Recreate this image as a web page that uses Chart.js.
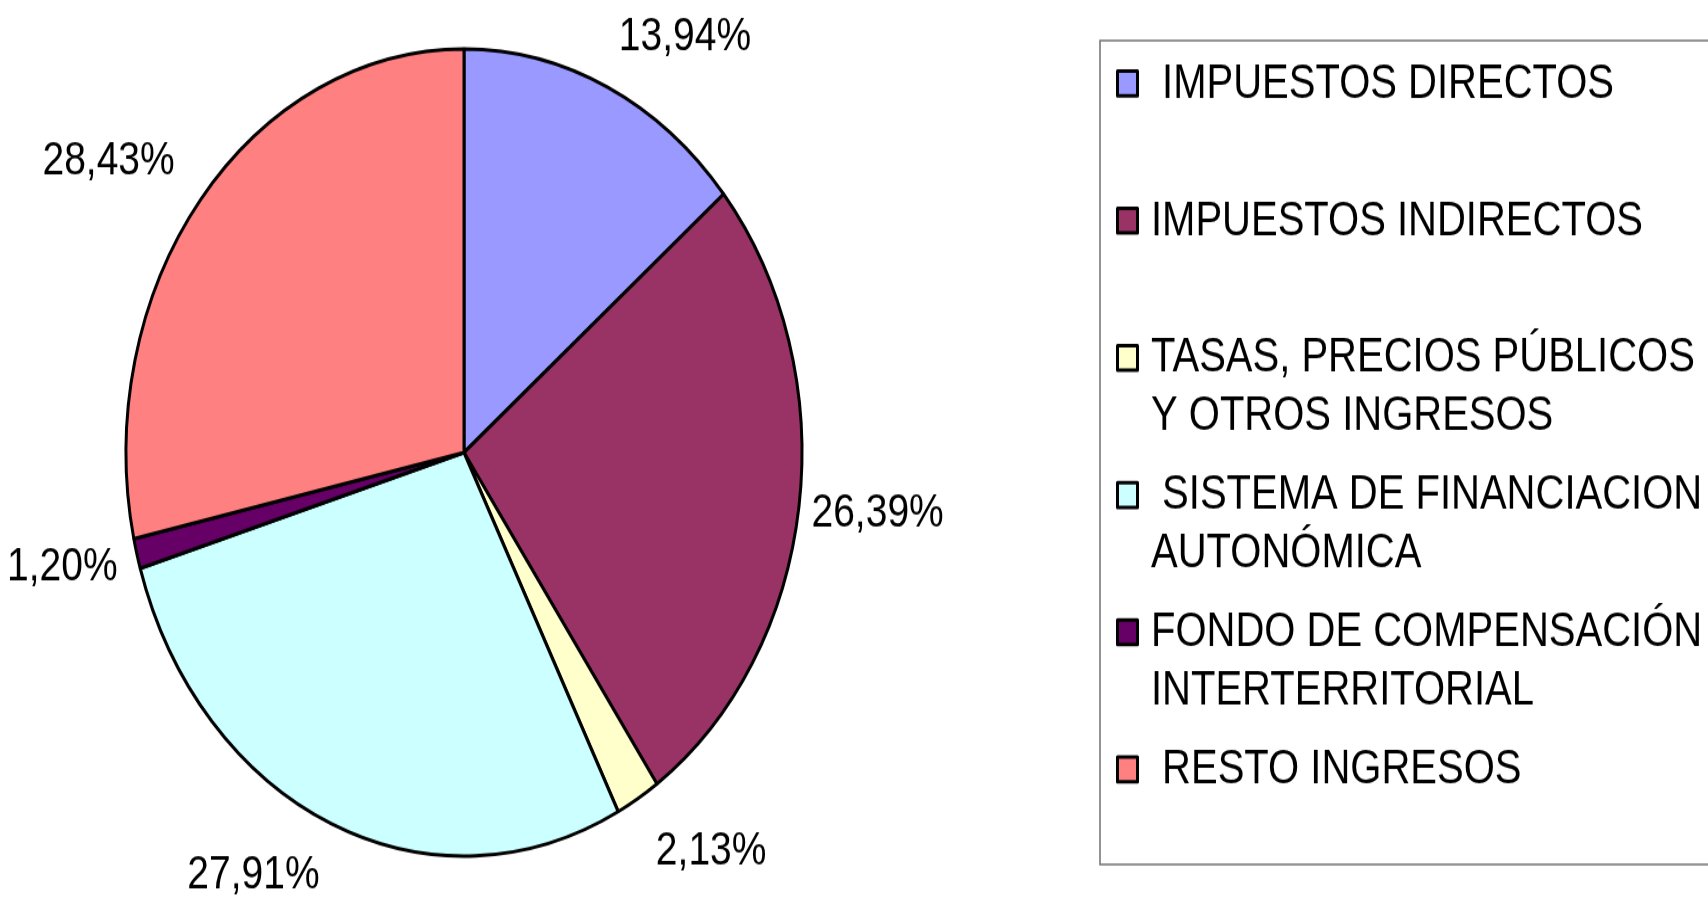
<!DOCTYPE html>
<html>
<head>
<meta charset="utf-8">
<script src="https://cdn.jsdelivr.net/npm/chart.js@4.4.1/dist/chart.umd.min.js"></script>
<style>
  html, body { margin: 0; padding: 0; background: #fff; width: 1708px; height: 898px; overflow: hidden; }
  #wrap { width: 1708px; height: 752px; transform: scaleY(1.194); transform-origin: 0 0; }
  #chart { display: block; }
</style>
</head>
<body>
<div id="wrap"><canvas id="chart" width="1708" height="752" style="width:1708px;height:752px"></canvas></div>
<script>
const categories = [
  [' IMPUESTOS DIRECTOS'],
  ['IMPUESTOS INDIRECTOS'],
  ['TASAS, PRECIOS PÚBLICOS', 'Y OTROS INGRESOS'],
  [' SISTEMA DE FINANCIACION', 'AUTONÓMICA'],
  ['FONDO DE COMPENSACIÓN', 'INTERTERRITORIAL'],
  [' RESTO INGRESOS']
];
const shares = [13.94, 26.39, 2.13, 27.91, 1.20, 28.43];
const sliceColors = ['#9999FF', '#993366', '#FFFFCC', '#CCFFFF', '#660066', '#FF8080'];

// percentage labels outside each slice
const sliceLabels = {
  id: 'sliceLabels',
  afterDatasetsDraw(chart) {
    const ctx = chart.ctx;
    const meta = chart.getDatasetMeta(0);
    const values = chart.data.datasets[0].data;
    ctx.save();
    ctx.font = '39px "Liberation Sans", Arial, sans-serif';
    ctx.fillStyle = '#000';
    ctx.textBaseline = 'alphabetic';
    ctx.textAlign = 'left';
    const capH = 27.5;
    meta.data.forEach((arc, i) => {
      const p = arc.getProps(['x', 'y', 'startAngle', 'endAngle', 'outerRadius'], true);
      const mid = (p.startAngle + p.endAngle) / 2;
      const ux = Math.cos(mid), uy = Math.sin(mid);
      const d = p.outerRadius + 4 + 60 * Math.abs(ux * uy) + 5 * Math.max(0, uy);
      const ax = p.x + ux * d, ay = p.y + uy * d;
      const txt = values[i].toFixed(2).replace('.', ',') + '%';
      const w = ctx.measureText(txt).width;
      const k = Math.max(-1, Math.min(1, ux * 3));
      const left = ax - w * (1 - k) / 2;
      const top = ay - capH * (1 - uy) / 2 - 9 * Math.max(0, -uy);
      ctx.fillText(txt, left, top + capH);
    });
    ctx.restore();
  }
};

// boxed legend on the right, two text lines per entry
const sideLegend = {
  id: 'sideLegend',
  afterDraw(chart) {
    const ctx = chart.ctx;
    const labels = chart.data.labels;
    const colors = chart.data.datasets[0].backgroundColor;
    ctx.save();
    ctx.strokeStyle = '#707070';
    ctx.lineWidth = 1.5;
    ctx.strokeRect(1100, 34, 700, 690);

    const x0 = 1151;
    ctx.font = '40px "Liberation Sans", Arial, sans-serif';
    ctx.textBaseline = 'alphabetic';
    labels.forEach((lines, i) => {
      const base = 81.6 + i * 114.9;
      ctx.fillStyle = colors[i];
      ctx.strokeStyle = '#000';
      ctx.lineWidth = 3;
      ctx.lineJoin = 'round';
      ctx.beginPath();
      ctx.rect(1117.5, base - 22, 20, 20.6);
      ctx.fill();
      ctx.stroke();
      ctx.fillStyle = '#000';
      lines.forEach((ln, j) => {
        ctx.fillText(ln, x0, base + j * 48.6);
      });
    });
    ctx.restore();
  }
};

new Chart(document.getElementById('chart'), {
  type: 'pie',
  data: {
    labels: categories,
    datasets: [{
      data: shares,
      backgroundColor: sliceColors,
      borderColor: '#000',
      borderWidth: 3,
      radius: 338
    }]
  },
  options: {
    responsive: false,
    animation: false,
    devicePixelRatio: 1,
    layout: { padding: { left: 0, top: 6, right: 780, bottom: 0 } },
    plugins: {
      legend: { display: false },
      tooltip: { enabled: false }
    }
  },
  plugins: [sliceLabels, sideLegend]
});
</script>
</body>
</html>
